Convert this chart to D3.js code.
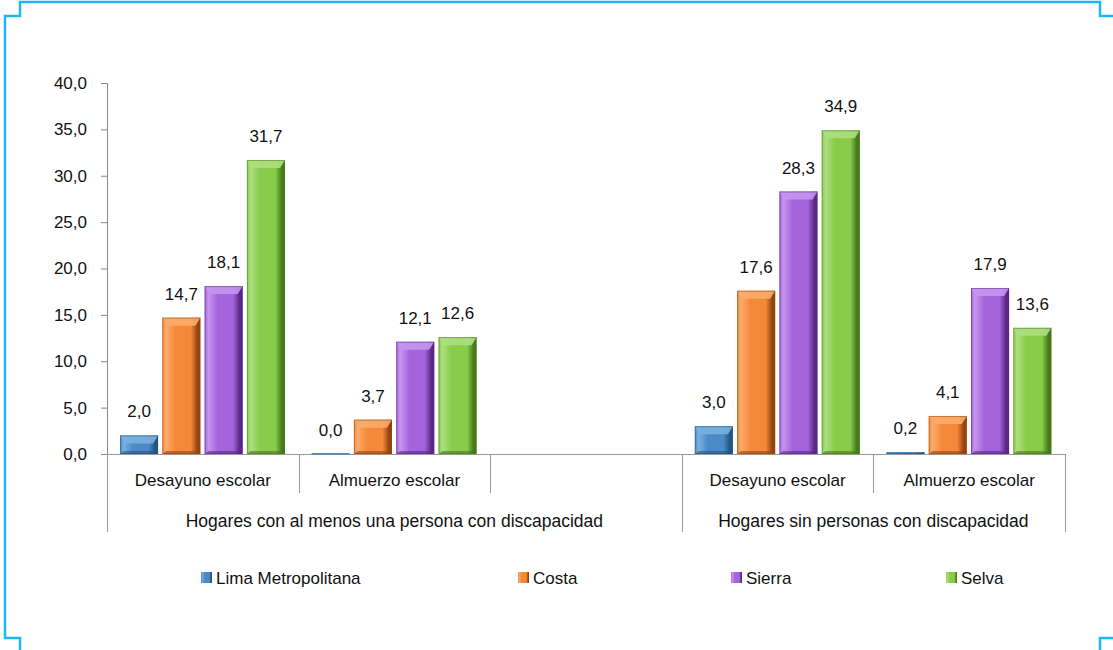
<!DOCTYPE html>
<html><head><meta charset="utf-8">
<script src="https://cdn.jsdelivr.net/npm/d3@7"></script>
<style>body{margin:0;background:#fff}svg{display:block}text{font-family:"Liberation Sans",Arial,sans-serif;fill:#111}</style>
</head><body><svg id="c" width="1113" height="650"></svg>
<script>
const slots = ["Desayuno escolar","Almuerzo escolar","","Desayuno escolar","Almuerzo escolar"];
const groups = [{name:"Hogares con al menos una persona con discapacidad", from:0, to:2},
                {name:"Hogares sin personas con discapacidad", from:3, to:4}];
const series = ["Lima Metropolitana","Costa","Sierra","Selva"];
const limaVals  = [2.0, 0.0, null, 3.0, 0.2];
const costaVals = [14.7, 3.7, null, 17.6, 4.1];
const sierraVals= [18.1, 12.1, null, 28.3, 17.9];
const selvaVals = [31.7, 12.6, null, 34.9, 13.6];
const yTicks = [0,5,10,15,20,25,30,35,40];
const allVals = [limaVals, costaVals, sierraVals, selvaVals];
const colors = ["#4a8ac6","#f5893a","#a464dc","#89cc4a"];
const dark   = ["#24557f","#94450f","#5a2786","#467a1c"];
const light  = ["#7ab0de","#fbac6c","#c596ee","#addf80"];

const svg = d3.select("#c");
const fmt = v => d3.format(".1f")(v).replace(".", ",");

// frame
const blue = "#1ab8f0";
svg.append("path").attr("fill","none").attr("stroke",blue).attr("stroke-width",2.5)
  .attr("d","M20,650 V638 H5 V16 H20 V2 H1100 V16 H1113");
svg.append("path").attr("fill","none").attr("stroke",blue).attr("stroke-width",2.5)
  .attr("d","M1113,638 H1100 V650");

const x0 = d3.scaleBand().domain(d3.range(slots.length)).range([107,1065]).padding(0);
const x1 = d3.scaleBand().domain(d3.range(series.length)).range([13,178]).paddingInner(0.1);
const y = d3.scaleLinear().domain([0,40]).range([454,83]);

// gradients
const defs = svg.append("defs");
series.forEach((s,i)=>{
  const g = defs.append("linearGradient").attr("id","g"+i).attr("x1","0").attr("x2","1").attr("y1","0").attr("y2","0");
  g.append("stop").attr("offset","0").attr("stop-color",colors[i]);
  g.append("stop").attr("offset","0.1").attr("stop-color",light[i]);
  g.append("stop").attr("offset","0.35").attr("stop-color",colors[i]);
  g.append("stop").attr("offset","0.75").attr("stop-color",colors[i]);
  g.append("stop").attr("offset","0.92").attr("stop-color",dark[i]);
  g.append("stop").attr("offset","1").attr("stop-color",dark[i]);
});

// y axis
const yAxis = svg.append("g").attr("transform","translate(107,0)")
  .call(d3.axisLeft(y).tickValues(yTicks).tickSize(6).tickFormat(fmt));
yAxis.select(".domain").attr("stroke","#888").attr("d","M-6,83.5H0.5V454");
yAxis.selectAll(".tick line").attr("stroke","#888");
yAxis.selectAll(".tick text").attr("x",-20).style("font-size","17px").style("font-family","'Liberation Sans',Arial,sans-serif").attr("fill","#111");

// x axis line & separators
const ax = svg.append("g").attr("stroke","#999").attr("stroke-width",1);
ax.append("line").attr("x1",107).attr("x2",1065).attr("y1",454.5).attr("y2",454.5);
const bounds = d3.range(slots.length+1).map(i => i<slots.length ? x0(i) : x0(slots.length-1)+x0.bandwidth());
const longB = new Set([0,3,5]);
bounds.forEach((b,i)=>{
  ax.append("line").attr("x1",Math.round(b)+0.5).attr("x2",Math.round(b)+0.5).attr("y1",454).attr("y2",longB.has(i)?532:493);
});

// category labels
slots.forEach((s,i)=>{
  if(!s) return;
  svg.append("text").attr("x",x0(i)+x0.bandwidth()/2).attr("y",486).attr("text-anchor","middle").style("font-size","17px").text(s);
});
groups.forEach(g=>{
  const a = x0(g.from), b = x0(g.to)+x0.bandwidth();
  svg.append("text").attr("x",(a+b)/2).attr("y",527).attr("text-anchor","middle").style("font-size","17.5px").text(g.name);
});

// bars
allVals.forEach((vals,si)=>{
  vals.forEach((v,ci)=>{
    if(v===null) return;
    const bx = x0(ci)+x1(si), bw = x1.bandwidth();
    const top = y(v), h = y(0)-y(v);
    const g = svg.append("g");
    if(h>0.5){
      g.append("rect").attr("x",bx).attr("y",top).attr("width",bw).attr("height",h).attr("fill",`url(#g${si})`);
      const bv = Math.min(8, h/2);
      g.append("path").attr("fill",light[si]).attr("opacity",0.9)
        .attr("d",`M${bx},${top}H${bx+bw}L${bx+bw-5},${top+bv}H${bx+5}Z`);
      g.append("path").attr("fill",dark[si]).attr("opacity",0.6)
        .attr("d",`M${bx},${top+h}H${bx+bw}L${bx+bw-4},${top+h-Math.min(3,h/3)}H${bx+4}Z`);
      g.append("rect").attr("x",bx+0.5).attr("y",top+0.5).attr("width",bw-1).attr("height",Math.max(0,h-1))
        .attr("fill","none").attr("stroke",dark[si]).attr("stroke-opacity",0.5);
    } else {
      g.append("rect").attr("x",bx).attr("y",top-1).attr("width",bw).attr("height",1.5).attr("fill",colors[si]);
    }
    svg.append("text").attr("x",bx+bw/2).attr("y",top-18).attr("text-anchor","middle").style("font-size","17px").text(fmt(v));
  });
});

// legend
const legX = [201,518,731,946];
series.forEach((s,i)=>{
  svg.append("rect").attr("x",legX[i]).attr("y",572).attr("width",11).attr("height",11).attr("fill",`url(#g${i})`);
  svg.append("text").attr("x",legX[i]+15).attr("y",584).style("font-size","17px").text(s);
});
</script></body></html>
